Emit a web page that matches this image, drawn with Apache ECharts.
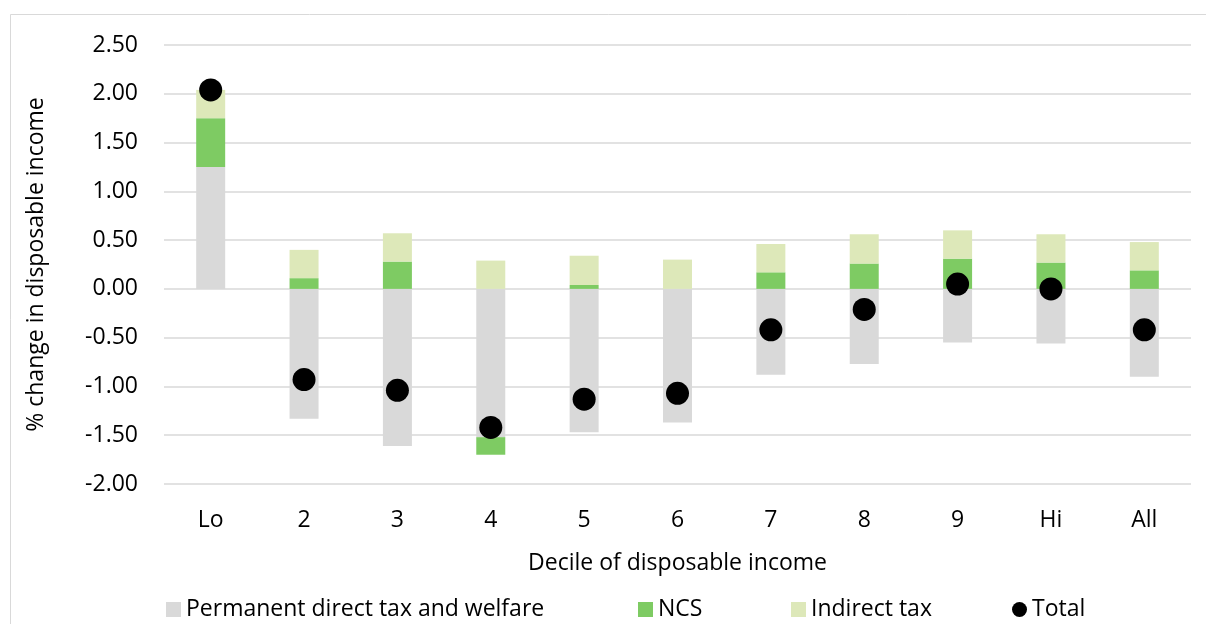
<!DOCTYPE html>
<html>
<head>
<meta charset="utf-8">
<script src="https://cdn.jsdelivr.net/npm/echarts@6/dist/echarts.min.js"></script>
<style>
html,body{margin:0;padding:0;background:#fff;}
#main{width:1206px;height:624px;}
</style>
</head>
<body>
<div id="main"></div>
<script>
const categories = ['Lo', '2', '3', '4', '5', '6', '7', '8', '9', 'Hi', 'All'];
const permanentDirect = [1.25, -1.33, -1.61, -1.52, -1.47, -1.37, -0.88, -0.77, -0.55, -0.56, -0.90];
const ncs = [0.50, 0.11, 0.28, -0.18, 0.04, 0.00, 0.17, 0.26, 0.31, 0.27, 0.19];
const indirectTax = [0.29, 0.29, 0.29, 0.29, 0.30, 0.30, 0.29, 0.30, 0.29, 0.29, 0.29];
const total = [2.04, -0.93, -1.04, -1.42, -1.13, -1.07, -0.42, -0.21, 0.05, 0.00, -0.42];
const yTicks = { min: -2, max: 2.5, interval: 0.5 };

const FONT = 'Open Sans';
const FS = 23;
const chart = echarts.init(document.getElementById('main'), null, { renderer: 'canvas' });

function legendAt(name, left, icon) {
  return {
    data: [{ name: name, icon: icon }],
    left: left,
    top: 593,
    itemWidth: 15,
    itemHeight: 15,
    itemGap: 0,
    textStyle: { fontFamily: FONT, fontSize: FS, color: '#000' },
    selectedMode: false
  };
}

chart.setOption({
  animation: false,
  backgroundColor: '#fff',
  graphic: [{
    type: 'rect',
    shape: { x: 10.5, y: 14.5, width: 1210, height: 640 },
    style: { fill: 'none', stroke: '#d9d9d9', lineWidth: 1 },
    silent: true,
    z: -10
  }],
  grid: { left: 164, right: 15, top: 45, bottom: 140 },
  legend: [
    legendAt('Permanent direct tax and welfare', 161, 'rect'),
    legendAt('NCS', 633, 'rect'),
    legendAt('Indirect tax', 786, 'rect'),
    legendAt('Total', 1007, 'circle')
  ],
  xAxis: {
    type: 'category',
    data: categories,
    name: 'Decile of disposable income',
    nameLocation: 'middle',
    nameGap: 68,
    nameTextStyle: { fontFamily: FONT, fontSize: FS, color: '#000' },
    axisLine: { show: false, onZero: false },
    axisTick: { show: false },
    axisLabel: { fontFamily: FONT, fontSize: FS, color: '#000', margin: 25 },
    splitLine: { show: false }
  },
  yAxis: {
    type: 'value',
    min: yTicks.min,
    max: yTicks.max,
    interval: yTicks.interval,
    name: '% change in disposable income',
    nameLocation: 'middle',
    nameGap: 116,
    nameRotate: 90,
    nameTextStyle: { fontFamily: FONT, fontSize: FS, color: '#000' },
    axisLine: { show: false },
    axisTick: { show: false },
    axisLabel: { fontFamily: FONT, fontSize: FS, color: '#000', margin: 26, formatter: v => v.toFixed(2) },
    splitLine: { lineStyle: { color: '#d9d9d9', width: 1.5 } }
  },
  series: [
    { name: 'Permanent direct tax and welfare', type: 'bar', stack: 'a', data: permanentDirect, barWidth: 29, itemStyle: { color: '#d9d9d9' } },
    { name: 'NCS', type: 'bar', stack: 'a', data: ncs, barWidth: 29, itemStyle: { color: '#7ecb63' } },
    { name: 'Indirect tax', type: 'bar', stack: 'a', data: indirectTax, barWidth: 29, itemStyle: { color: '#dde8b9' } },
    { name: 'Total', type: 'scatter', data: total, symbol: 'circle', symbolSize: 23, itemStyle: { color: '#000', opacity: 1 }, z: 5 }
  ]
});
</script>
</body>
</html>
